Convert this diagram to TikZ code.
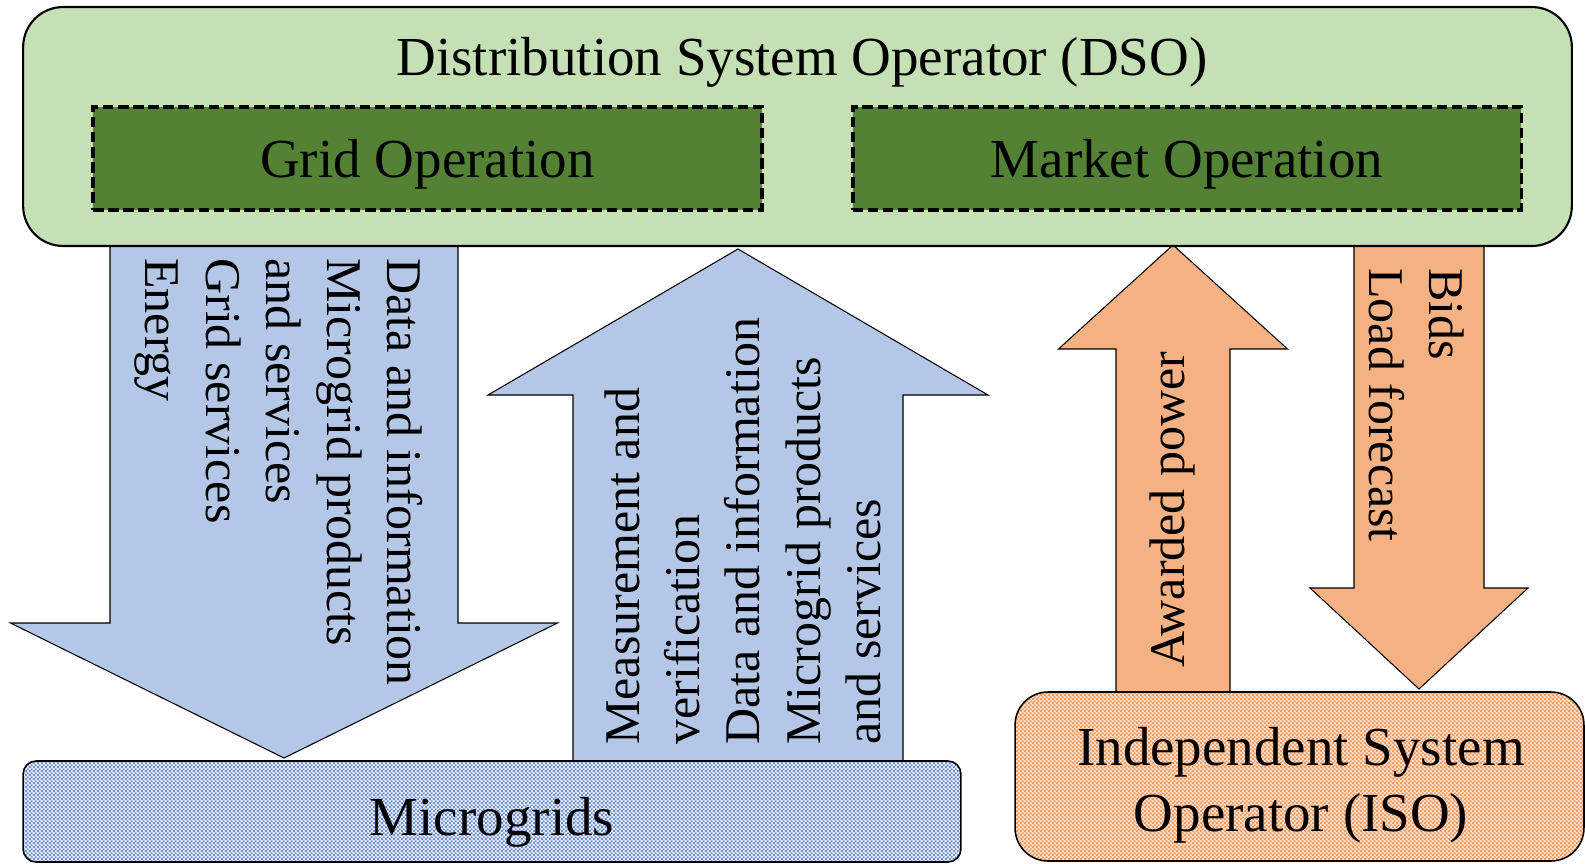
\documentclass[tikz,border=0pt]{standalone}
\usepackage{fontspec}
\setmainfont{Liberation Serif}
\usetikzlibrary{patterns}

\definecolor{dsofill}{RGB}{197,224,180}
\definecolor{opfill}{RGB}{84,130,53}
\definecolor{bluefill}{RGB}{180,199,231}
\definecolor{orangefill}{RGB}{244,177,131}
\definecolor{mgbase}{RGB}{228,235,250}
\definecolor{mgdot}{RGB}{112,144,206}
\definecolor{isobase}{RGB}{252,218,195}
\definecolor{isodot}{RGB}{238,158,100}

% fine checkerboard fill
\pgfdeclarepatternformonly{checker}{\pgfqpoint{0pt}{0pt}}{\pgfqpoint{2.4pt}{2.4pt}}{\pgfqpoint{2.4pt}{2.4pt}}{%
  \pgfpathrectangle{\pgfqpoint{0pt}{0pt}}{\pgfqpoint{1.2pt}{1.2pt}}%
  \pgfpathrectangle{\pgfqpoint{1.2pt}{1.2pt}}{\pgfqpoint{1.2pt}{1.2pt}}%
  \pgfusepath{fill}}

% block arrow: colour, centre x, shaft half width, head half width, start y, head base y, tip y
\newcommand{\blockarr}[7]{%
  \draw[arrowline, fill=#1] (#2-#3,#5) -- (#2-#3,#6) -- (#2-#4,#6) -- (#2,#7)
    -- (#2+#4,#6) -- (#2+#3,#6) -- (#2+#3,#5) -- cycle;}

\tikzset{
  arrowline/.style={draw=black, line width=0.6pt, line join=miter},
  boxtxt/.style={font=\fontsize{31.3}{37.6}\selectfont, inner sep=0pt},
  arrtxt/.style={font=\fontsize{28.45}{34.4}\selectfont, inner sep=0pt, align=left},
  dsobox/.style={draw=black, line width=1.2pt, fill=dsofill, rounded corners=0.8cm,
    minimum width=30.98cm, minimum height=4.78cm, inner sep=0pt},
  opbox/.style={draw=black, line width=2.2pt, dash pattern=on 6pt off 2.6pt,
    fill=opfill, minimum width=13.38cm, minimum height=2.06cm, inner sep=0pt},
  mgbox/.style={draw=black, line width=0.9pt, preaction={fill=mgbase},
    pattern=checker, pattern color=mgdot, rounded corners=0.26cm,
    minimum width=18.76cm, minimum height=2.02cm, inner sep=0pt},
  isobox/.style={draw=black, line width=0.9pt, preaction={fill=isobase},
    pattern=checker, pattern color=isodot, rounded corners=0.66cm,
    minimum width=11.38cm, minimum height=3.38cm, inner sep=0pt},
}

\begin{document}
\begin{tikzpicture}[x=0.02cm, y=-0.02cm]
\useasboundingbox (0,0) rectangle (1585,863);

% flows between the operators and the microgrids
\blockarr{bluefill}{284}{174}{273.5}{240}{623}{758}
\blockarr{bluefill}{738}{165}{250}{770}{395}{249}
\blockarr{orangefill}{1173}{57}{114.5}{700}{349}{245}
\blockarr{orangefill}{1419}{65}{109}{240}{588}{689}

% distribution system operator
\node[dsobox] (dso) at (797.5,126.5) {};
\node[boxtxt, anchor=base] (dsotitle) at (802,75) {Distribution System Operator (DSO)};
\node[opbox] (grid) at (427.5,158.5) {};
\node[boxtxt, anchor=base] (gridtxt) at (427.5,177) {Grid Operation};
\node[opbox] (market) at (1187,158.5) {};
\node[boxtxt, anchor=base] (markettxt) at (1187,177) {Market Operation};

% microgrids
\node[mgbox] (mg) at (492,811.5) {};
\node[boxtxt, anchor=base] (mgtxt) at (492,835) {Microgrids};

% independent system operator
\node[isobox] (iso) at (1299.5,776.5) {};
\node[boxtxt, anchor=base] (isotxt1) at (1301,765) {Independent System};
\node[boxtxt, anchor=base] (isotxt2) at (1301,831) {Operator (ISO)};

% arrow labels
\node[arrtxt, rotate=-90, anchor=north west] (downtxt) at (423,258)
  {Data and information\\Microgrid products\\and services\\Grid services\\Energy};
\node[arrtxt, rotate=90, anchor=north west] (uptxt) at (604,745)
  {Measurement and\\verification\\Data and information\\Microgrid products\\and services};
\node[arrtxt, rotate=90, anchor=north west] (awardtxt) at (1149,668) {Awarded power};
\node[arrtxt, rotate=-90, anchor=north west] (bidtxt) at (1465,268) {Bids\\Load forecast};
\end{tikzpicture}
\end{document}
